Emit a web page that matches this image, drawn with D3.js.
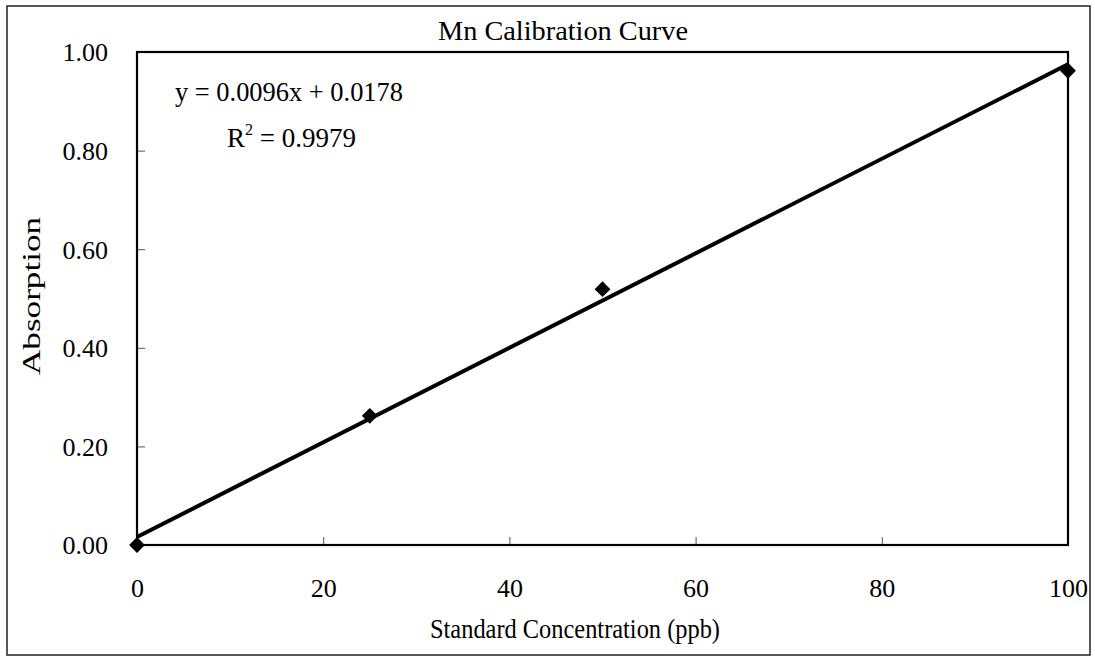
<!DOCTYPE html>
<html>
<head>
<meta charset="utf-8">
<script src="https://cdn.jsdelivr.net/npm/d3@7"></script>
<style>
  html, body { margin: 0; padding: 0; background: #fff; }
  svg { display: block; }
  text { font-family: "Liberation Serif", "Times New Roman", serif; fill: #000; }
</style>
</head>
<body>
<svg id="chart" width="1095" height="657"></svg>
<script>
// ---- data ----
const concentrations = [0, 25, 50, 100];          // ppb
const absorptions    = [0.000, 0.262, 0.519, 0.962];
const xTicks = [0, 20, 40, 60, 80, 100];
const yTicks = [0.00, 0.20, 0.40, 0.60, 0.80, 1.00];
const titleText = "Mn Calibration Curve";
const xTitle = "Standard Concentration (ppb)";
const yTitle = "Absorption";
const eqText = "y = 0.0096x + 0.0178";
const r2Value = "0.9979";

// ---- layout ----
const svg = d3.select("#chart");
const plot = { left: 137, top: 52, right: 1068, bottom: 545 };

const x = d3.scaleLinear().domain([0, 100]).range([plot.left, plot.right]);
const y = d3.scaleLinear().domain([0, 1]).range([plot.bottom, plot.top]);

// outer border
svg.append("rect")
  .attr("x", 7).attr("y", 6).attr("width", 1083).attr("height", 649)
  .attr("fill", "#fff").attr("stroke", "#222").attr("stroke-width", 1.5);

// axes (ticks inside)
const xAxis = d3.axisBottom(x).tickValues(xTicks).tickSize(-8).tickFormat(d3.format("d")).tickPadding(52);
const yAxis = d3.axisLeft(y).tickValues(yTicks).tickSize(-8).tickFormat(d3.format(".2f")).tickPadding(29);

const gx = svg.append("g").attr("transform", `translate(0,${plot.bottom})`).call(xAxis);
const gy = svg.append("g").attr("transform", `translate(${plot.left},0)`).call(yAxis);
[gx, gy].forEach(g => {
  g.attr("font-family", null).attr("font-size", null);
  g.select(".domain").remove();
  g.selectAll(".tick line").attr("stroke", "#555").attr("stroke-width", 1);
  g.selectAll(".tick text").attr("font-size", 26).attr("fill", "#000");
});
gx.selectAll(".tick text").attr("dy", "0");
gy.selectAll(".tick text").attr("dy", "0.34em");

// plot frame
svg.append("rect")
  .attr("x", plot.left).attr("y", plot.top)
  .attr("width", plot.right - plot.left).attr("height", plot.bottom - plot.top)
  .attr("fill", "none").attr("stroke", "#000").attr("stroke-width", 2.2);

// linear regression from data
const n = concentrations.length;
const mx = d3.mean(concentrations), my = d3.mean(absorptions);
let sxy = 0, sxx = 0;
for (let i = 0; i < n; i++) {
  sxy += (concentrations[i] - mx) * (absorptions[i] - my);
  sxx += (concentrations[i] - mx) ** 2;
}
const slope = sxy / sxx, intercept = my - slope * mx;
const fitX = [0, 100];
svg.append("path")
  .datum(fitX.map(v => [v, intercept + slope * v]))
  .attr("d", d3.line().x(d => x(d[0])).y(d => y(d[1])))
  .attr("fill", "none").attr("stroke", "#000").attr("stroke-width", 4);

// markers
const sym = d3.symbol().type(d3.symbolSquare).size(125);
svg.selectAll(".pt").data(concentrations.map((c, i) => [c, absorptions[i]]))
  .enter().append("path")
  .attr("class", "pt")
  .attr("d", sym)
  .attr("transform", d => `translate(${x(d[0])},${y(d[1])}) rotate(45)`)
  .attr("fill", "#000");

// title
svg.append("text")
  .attr("x", 563).attr("y", 40).attr("text-anchor", "middle")
  .attr("font-size", 27).attr("textLength", 250).attr("lengthAdjust", "spacingAndGlyphs")
  .text(titleText);

// x title
svg.append("text")
  .attr("x", 575).attr("y", 638).attr("text-anchor", "middle")
  .attr("font-size", 27).attr("textLength", 290).attr("lengthAdjust", "spacingAndGlyphs")
  .text(xTitle);

// y title
svg.append("text")
  .attr("transform", `translate(40,296) rotate(-90)`)
  .attr("text-anchor", "middle")
  .attr("font-size", 26).attr("textLength", 158).attr("lengthAdjust", "spacingAndGlyphs")
  .text(yTitle);

// equation
svg.append("text")
  .attr("x", 175).attr("y", 101)
  .attr("font-size", 27).attr("textLength", 228).attr("lengthAdjust", "spacingAndGlyphs")
  .text(eqText);

const r2 = svg.append("text").attr("x", 227).attr("y", 147).attr("font-size", 27);
r2.append("tspan").text("R");
r2.append("tspan").attr("font-size", 16).attr("dy", -12).text("2");
r2.append("tspan").attr("dy", 12).text(" = " + r2Value);
</script>
</body>
</html>
